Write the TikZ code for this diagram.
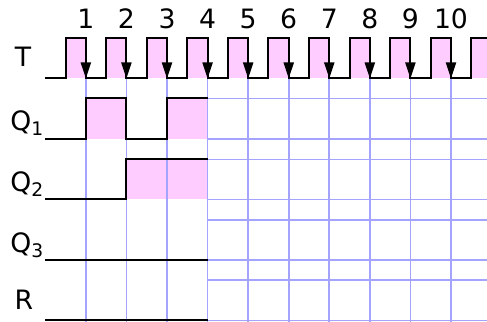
\documentclass[tikz,border=0pt]{standalone}
\usepackage{fontspec}
\setmainfont{DejaVu Sans}
\usepackage{tikz}
\usetikzlibrary{arrows.meta}
\definecolor{pulse}{HTML}{FFCCFF}
\definecolor{gridblue}{HTML}{A4A4FF}
\tikzset{
  sig/.style={black,line width=1.5pt,line join=miter},
  grd/.style={gridblue,line width=1.2pt},
  hi/.style={fill=pulse,draw=none},
  clk/.style={-{Triangle[length=12pt,width=7.5pt]},black,line width=1.5pt},
  lbl/.style={font=\fontsize{20}{24}\selectfont,inner sep=0pt},
}
\def\clkzero{45.3}
\def\clkper{40.57}
\def\clkhalf{20.3}
\begin{document}
\begin{tikzpicture}[x=0.75pt,y=0.75pt]
  \useasboundingbox (0,0) rectangle (487,322);
  % pulse fills
  \foreach \k in {1,...,10}
    \fill[hi] ({\clkzero+\clkper*\k-\clkhalf},243.5) rectangle ({\clkzero+\clkper*\k},284);
  \fill[hi] (471.3,243.5) rectangle (487,284);
  \fill[hi] (85.87,183) rectangle (126.44,223.5);
  \fill[hi] (167.01,183) rectangle (207.58,223.5);
  \fill[hi] (126.44,122.5) rectangle (207.58,162.5);
  % grid
  \foreach \k in {1,...,10}
    \draw[grd] ({\clkzero+\clkper*\k},243.5) -- ({\clkzero+\clkper*\k},0);
  \foreach \y in {223.5,183,162.5,122.5,102,62,42,1.5}
    \draw[grd] (207.58,\y) -- (487,\y);
  % clock
  \draw[sig] (45,243.5) \foreach \k in {1,...,10} {
      -- ({\clkzero+\clkper*\k-\clkhalf},243.5) -- ({\clkzero+\clkper*\k-\clkhalf},284)
      -- ({\clkzero+\clkper*\k},284) -- ({\clkzero+\clkper*\k},243.5) }
    -- (471.3,243.5) -- (471.3,284) -- (487,284);
  \foreach \k in {1,...,10} {
    \draw[clk] ({\clkzero+\clkper*\k},270) -- ({\clkzero+\clkper*\k},243.5);
    \node[lbl,anchor=base] (n\k) at ({\clkzero+\clkper*\k},293) {\k};
  }
  % outputs
  \draw[sig] (45,183) -- (85.87,183) -- (85.87,223.5) -- (126.44,223.5) -- (126.44,183)
    -- (167.01,183) -- (167.01,223.5) -- (207.58,223.5);
  \draw[sig] (45,122.5) -- (126.44,122.5) -- (126.44,162.5) -- (207.58,162.5);
  \draw[sig] (45,62) -- (207.58,62);
  \draw[sig] (45,1.5) -- (207.58,1.5);
  % labels
  \node[lbl,anchor=base] (lblT) at (23,255) {T};
  \node[lbl,anchor=base west] (lblQ1) at (10,191) {Q\textsubscript{1}};
  \node[lbl,anchor=base west] (lblQ2) at (10,130) {Q\textsubscript{2}};
  \node[lbl,anchor=base west] (lblQ3) at (10,69) {Q\textsubscript{3}};
  \node[lbl,anchor=base] (lblR) at (24,12) {R};
\end{tikzpicture}
\end{document}
